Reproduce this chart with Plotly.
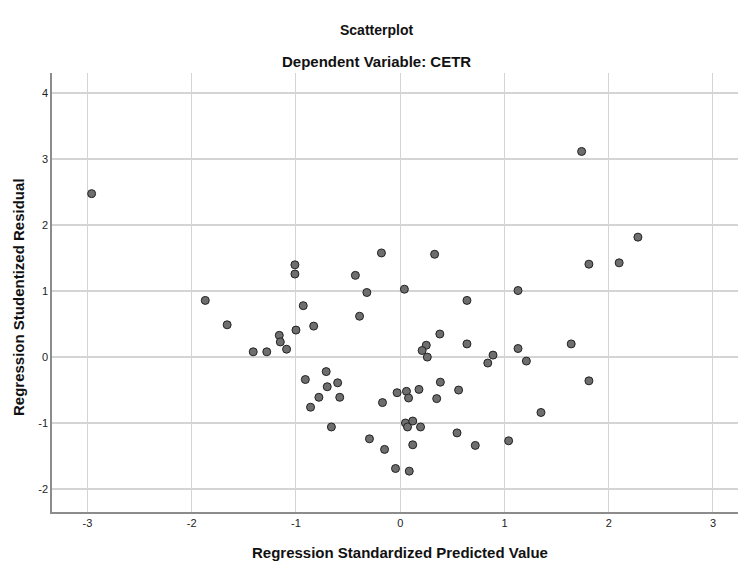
import plotly.graph_objects as go

pred = [-2.96, 1.74, 2.28, 1.81, 2.10, -0.18, 0.33, -1.01, -1.01, -0.43,
        0.04, 1.13, -0.32, -1.87, 0.64, -0.93, -0.39, -1.66, -0.83, -1.00,
        -1.16, 0.38, -1.15, 0.25, 0.64, 1.64, 0.21, -1.09, 1.13, -1.41,
        -1.28, 0.26, 0.89, 0.84, 1.21, -0.71, -0.91, -0.60, 0.385, 1.81,
        -0.70, 0.18, 0.56, -0.03, 0.06, -0.78, -0.58, 0.08, 0.35, -0.17,
        -0.86, 1.35, 0.05, 0.12, 0.07, 0.195, -0.66, 0.545, -0.295, 1.04,
        -0.15, 0.12, 0.72, -0.045, 0.087]
resid = [2.48, 3.12, 1.82, 1.41, 1.43, 1.58, 1.56, 1.40, 1.26, 1.24,
         1.03, 1.01, 0.98, 0.86, 0.86, 0.78, 0.62, 0.49, 0.47, 0.41,
         0.33, 0.35, 0.23, 0.18, 0.20, 0.20, 0.10, 0.12, 0.13, 0.08,
         0.08, 0.00, 0.03, -0.09, -0.06, -0.22, -0.34, -0.39, -0.38, -0.36,
         -0.45, -0.49, -0.50, -0.54, -0.52, -0.61, -0.61, -0.62, -0.63, -0.69,
         -0.76, -0.84, -1.00, -0.97, -1.06, -1.06, -1.06, -1.15, -1.24, -1.27,
         -1.40, -1.33, -1.34, -1.69, -1.73]

xticks = [-3, -2, -1, 0, 1, 2, 3]
yticks = [-2, -1, 0, 1, 2, 3, 4]

title_main = "Scatterplot"
title_sub = "Dependent Variable: CETR"
x_title = "Regression Standardized Predicted Value"
y_title = "Regression Studentized Residual"

W, H = 738, 572
ML, MR, MT, MB = 52, 0, 73, 60
font = "Liberation Sans, Arial, sans-serif"


def px_to_paper(px, py):
    pw = W - ML - MR
    ph = H - MT - MB
    return (px - ML) / pw, (H - MB - py) / ph


fig = go.Figure()
fig.add_trace(go.Scatter(
    x=pred, y=resid, mode="markers",
    marker=dict(size=8, color="#6e6e6e", line=dict(color="#222222", width=1)),
    showlegend=False, hoverinfo="x+y",
))

annots = []
for text, (px, py), size, ang in [
    (title_main, (376, 30), 14, 0),
    (title_sub, (376, 62), 15, 0),
    (x_title, (400, 552), 15, 0),
    (y_title, (18, 297), 15, -90),
]:
    xp, yp = px_to_paper(px, py)
    annots.append(dict(text="<b>" + text + "</b>", x=xp, y=yp, xref="paper", yref="paper",
                       xanchor="center", yanchor="middle", showarrow=False, textangle=ang,
                       font=dict(family=font, size=size, color="#111")))

fig.update_layout(
    width=W, height=H,
    margin=dict(l=ML, r=MR, t=MT, b=MB, autoexpand=False),
    paper_bgcolor="white", plot_bgcolor="white",
    annotations=annots,
)

fig.update_xaxes(
    range=[-3.34, 3.24], tickvals=xticks, ticktext=[str(v) for v in xticks],
    showgrid=True, gridcolor="#d4d4d4", gridwidth=1,
    showline=True, linecolor="#8c8c8c", linewidth=1.5,
    zeroline=False, ticks="", ticklen=0, automargin=False,
    tickfont=dict(family=font, size=11, color="#222"),
)
fig.update_yaxes(
    range=[-2.35, 4.31], tickvals=yticks, ticktext=[str(v) for v in yticks],
    showgrid=True, gridcolor="#d4d4d4", gridwidth=2,
    showline=True, linecolor="#8c8c8c", linewidth=1.5,
    zeroline=False, ticks="", ticklen=0, automargin=False,
    tickfont=dict(family=font, size=11, color="#222"),
)

fig.write_html(
    "out.html",
    config={"displayModeBar": False},
    post_script="document.body.style.margin='0';document.body.style.overflow='hidden';",
)
